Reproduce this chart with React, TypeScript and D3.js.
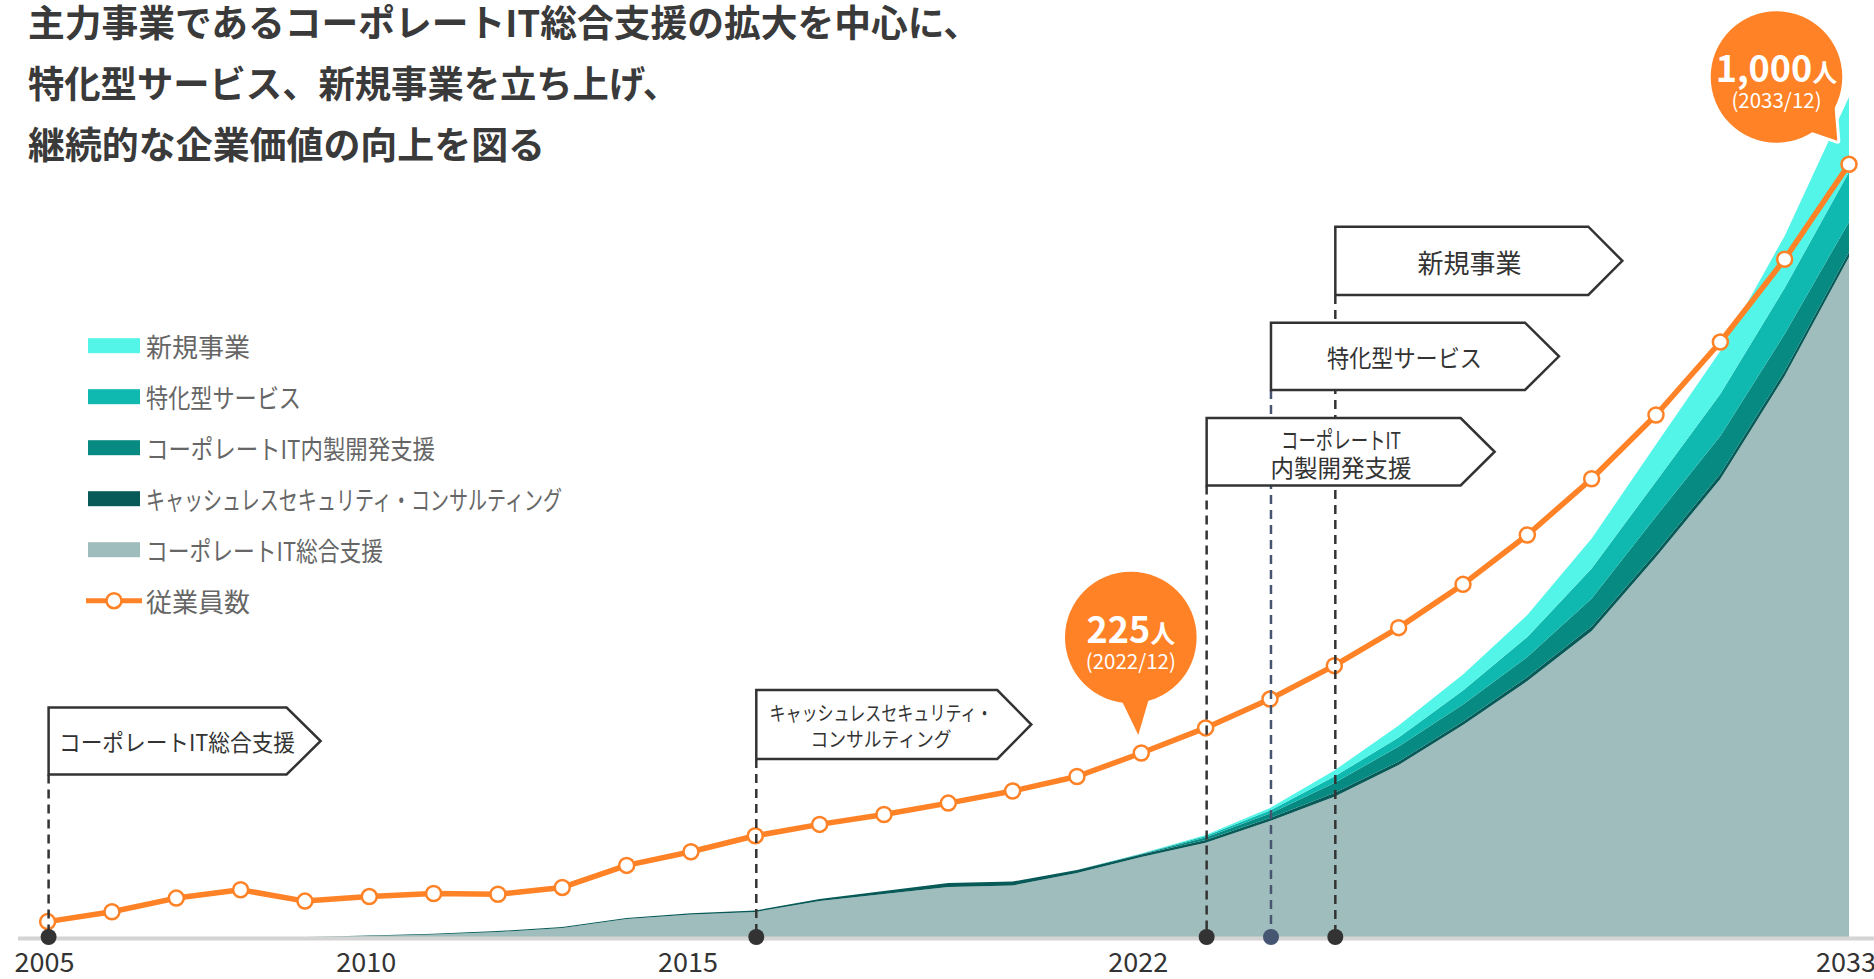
import React from 'react';
import * as d3 from 'd3';

// years on the x axis
const years = [
  2005, 2006, 2007, 2008, 2009, 2010, 2011, 2012, 2013, 2014,
  2015, 2016, 2017, 2018, 2019, 2020, 2021, 2022, 2023, 2024,
  2025, 2026, 2027, 2028, 2029, 2030, 2031, 2032, 2033,
];
const tickYears = [2005, 2010, 2015, 2022, 2033];

// employees (people)
const employees = [
  3, 16, 34, 45, 30, 36, 40, 39, 48, 77,
  95, 116, 131, 144, 159, 175, 194, 225, 258, 296,
  340, 390, 447, 512, 586, 670, 766, 875, 1000,
];

// business scale per segment (relative units)
const itGeneral = [
  0, 0, 0, 0, 0, 1, 2.5, 5, 9, 18,
  22.5, 25, 36, 43, 50, 51.5, 64, 80, 94.3, 116,
  140.3, 172, 212, 256, 306, 380, 458, 561, 680,
];
const cashless = [
  0, 0, 0, 0, 0, 0.5, 0.8, 1, 1, 1,
  1.2, 1.5, 2, 3, 4, 4, 3, 2.5, 2.7, 3,
  3.7, 3.5, 3.5, 4, 4.5, 4.5, 5, 5, 5,
];
const inhouse = [
  0, 0, 0, 0, 0, 0, 0, 0, 0, 0,
  0, 0, 0, 0, 0, 0, 0, 0.5, 2.5, 4.5,
  10, 15, 17, 20, 28, 36, 38, 37, 30,
];
const specialized = [
  0, 0, 0, 0, 0, 0, 0, 0, 0, 0,
  0, 0, 0, 0, 0, 0, 0, 0.3, 1.5, 3,
  6.5, 9, 14, 20, 30, 35, 42, 46, 50,
];
const newBiz = [
  0, 0, 0, 0, 0, 0, 0, 0, 0, 0,
  0, 0, 0, 0, 0, 0, 0, 0.2, 1, 2.5,
  6, 12, 16, 22, 30, 37, 43, 52, 75,
];

const seriesKeys = ['itGeneral', 'cashless', 'inhouse', 'specialized', 'newBiz'];
const seriesColors = {
  itGeneral: '#a0bdbd',
  cashless: '#075a57',
  inhouse: '#078a82',
  specialized: '#10b9b0',
  newBiz: '#52f5e8',
};

// fit = text width in the reference (its font has narrow kana)
const legendItems = [
  { label: '新規事業', key: 'newBiz', fit: 104 },
  { label: '特化型サービス', key: 'specialized', fit: 155 },
  { label: 'コーポレートIT内製開発支援', key: 'inhouse', fit: 289 },
  { label: 'キャッシュレスセキュリティ・コンサルティング', key: 'cashless', fit: 416 },
  { label: 'コーポレートIT総合支援', key: 'itGeneral', fit: 237 },
  { label: '従業員数', key: 'employees', fit: 104 },
];

const titleLines = [
  '主力事業であるコーポレートIT総合支援の拡大を中心に、',
  '特化型サービス、新規事業を立ち上げ、',
  '継続的な企業価値の向上を図る',
];
const titleFit = [952, 651, 517];

// start of each business, flag boxes above the timeline
const milestones = [
  { year: 2005, lines: ['コーポレートIT総合支援'], top: 707.5, bottom: 774.5, w: 238, cx: 177, ly: [741], fs: 23, fit: [236], color: '#333' },
  { year: 2016, lines: ['キャッシュレスセキュリティ・', 'コンサルティング'], top: 690, bottom: 759, w: 241, cx: 881, ly: [712.5, 738.5], fs: 20, fit: [223, 141], color: '#333' },
  { year: 2023, lines: ['コーポレートIT', '内製開発支援'], top: 418, bottom: 485.5, w: 254, cx: 1341, ly: [438.5, 466.5], fs: 23.5, fit: [120, 141], color: '#333' },
  { year: 2024, lines: ['特化型サービス'], top: 322.7, bottom: 390, w: 254, cx: 1404.5, ly: [356.5], fs: 24, fit: [155], color: '#475570' },
  { year: 2025, lines: ['新規事業'], top: 226.7, bottom: 295, w: 253, cx: 1469.5, ly: [261], fs: 26, fit: [104], color: '#333' },
];

const FONT = '"Noto Sans CJK JP", "Noto Sans", sans-serif';
const ORANGE = '#ff8226';

const W = 1874;
const H = 979;
const BASE_Y = 937;

const Bubble = ({ cx, cy, r, tail, big, unit, sub }) => {
  const tailPts = tail.map((p) => p.join(',')).join(' ');
  return (
    <g>
      <circle cx={cx} cy={cy} r={r} fill="#fff" stroke="#fff" strokeWidth={6} />
      <polygon points={tailPts} fill="#fff" stroke="#fff" strokeWidth={6} strokeLinejoin="round" />
      <circle cx={cx} cy={cy} r={r} fill={ORANGE} />
      <polygon points={tailPts} fill={ORANGE} />
      <text x={cx} y={cy + 5} textAnchor="middle" fill="#fff" fontFamily={FONT} fontWeight={700}>
        <tspan fontSize={36}>{big}</tspan>
        <tspan fontSize={25}>{unit}</tspan>
      </text>
      <text x={cx} y={cy + 31} textAnchor="middle" fill="#fff" fontFamily={FONT} fontSize={20.5}>
        {sub}
      </text>
    </g>
  );
};

export default function App() {
  const x = d3.scaleLinear().domain([2005, 2033]).range([47.6, 1849]);
  const yRev = d3.scaleLinear().domain([0, 840]).range([BASE_Y, 97]);
  const yEmp = d3.scaleLinear().domain([0, 1000]).range([923.9, 164.3]);

  const table = years.map((yr, i) => ({
    year: yr,
    itGeneral: itGeneral[i],
    cashless: cashless[i],
    inhouse: inhouse[i],
    specialized: specialized[i],
    newBiz: newBiz[i],
  }));
  const stacked = d3.stack().keys(seriesKeys)(table);

  const area = d3
    .area()
    .x((d) => x(d.data.year))
    .y0((d) => yRev(d[0]))
    .y1((d) => yRev(d[1]))
    .curve(d3.curveLinear);

  const line = d3
    .line()
    .x((d, i) => x(years[i]))
    .y((d) => yEmp(d));

  const legendTop = 345.7;
  const legendStep = 51;

  return (
    <svg
      width={W}
      height={H}
      viewBox={`0 0 ${W} ${H}`}
      style={{ position: 'absolute', left: 0, top: 0, display: 'block', overflow: 'hidden', background: '#fff' }}
    >
      {/* title */}
      {titleLines.map((t, i) => (
        <text
          key={t}
          x={28}
          y={37 + i * 61}
          fontFamily={FONT}
          fontSize={37}
          fontWeight={700}
          fill="#3a3a3a"
          textLength={titleFit[i]}
          lengthAdjust="spacingAndGlyphs"
        >
          {t}
        </text>
      ))}

      {/* stacked areas */}
      {stacked.map((s) => (
        <path key={s.key} d={area(s)} fill={seriesColors[s.key]} />
      ))}

      {/* baseline */}
      <line x1={18} x2={W} y1={BASE_Y + 1.5} y2={BASE_Y + 1.5} stroke="#d4d4d4" strokeWidth={4} />

      {/* employees line */}
      <path d={line(employees)} fill="none" stroke={ORANGE} strokeWidth={5.5} strokeLinejoin="round" />
      {employees.map((v, i) => (
        <circle key={years[i]} cx={x(years[i])} cy={yEmp(v)} r={7.5} fill="#fff" stroke={ORANGE} strokeWidth={2.5} />
      ))}

      {/* dashed milestone lines */}
      {milestones.map((m) => {
        const lx = x(m.year) + 1;
        return (
          <line key={`d${m.year}`} x1={lx} x2={lx} y1={m.bottom} y2={BASE_Y} stroke={m.color} strokeWidth={2.5} strokeDasharray="9 6" />
        );
      })}

      {/* flag boxes */}
      {milestones.map((m) => {
        const left = x(m.year) + 1;
        const right = left + m.w;
        const mid = (m.top + m.bottom) / 2;
        const d = `M${left},${m.top} H${right} L${right + 34},${mid} L${right},${m.bottom} H${left} Z`;
        return (
          <g key={`b${m.year}`}>
            <path d={d} fill="#fff" stroke="#333" strokeWidth={2.5} />
            {m.lines.map((t, i) => (
              <text
                key={t}
                x={m.cx}
                y={m.ly[i]}
                textAnchor="middle"
                dominantBaseline="central"
                fontFamily={FONT}
                fontSize={m.fs}
                fill="#333"
                textLength={m.fit[i]}
                lengthAdjust="spacingAndGlyphs"
              >
                {t}
              </text>
            ))}
          </g>
        );
      })}

      {/* dots on the axis */}
      {milestones.map((m) => (
        <circle key={`p${m.year}`} cx={x(m.year) + 1} cy={BASE_Y} r={8} fill={m.color === '#333' ? '#333' : '#465572'} />
      ))}

      {/* x axis labels */}
      {tickYears.map((t) => (
        <text key={t} x={x(t) - 3} y={972} textAnchor="middle" fontFamily={FONT} fontSize={27} fill="#333">
          {t}
        </text>
      ))}

      {/* legend */}
      {legendItems.map((it, i) => {
        const cy = legendTop + i * legendStep;
        return (
          <g key={it.key}>
            {it.key === 'employees' ? (
              <g>
                <line x1={86} x2={142} y1={cy} y2={cy} stroke={ORANGE} strokeWidth={5} />
                <circle cx={114} cy={cy} r={7.5} fill="#fff" stroke={ORANGE} strokeWidth={2.5} />
              </g>
            ) : (
              <rect x={88} y={cy - 7.5} width={52} height={15} fill={seriesColors[it.key]} />
            )}
            <text
              x={146}
              y={cy}
              dominantBaseline="central"
              fontFamily={FONT}
              fontSize={26}
              fill="#666"
              textLength={it.fit}
              lengthAdjust="spacingAndGlyphs"
            >
              {it.label}
            </text>
          </g>
        );
      })}

      {/* callouts */}
      <Bubble
        cx={1130.8}
        cy={637.5}
        r={65.8}
        tail={[[1119, 695], [1150, 695], [1138.3, 735]]}
        big="225"
        unit="人"
        sub="(2022/12)"
      />
      <Bubble
        cx={1776.5}
        cy={77}
        r={65.8}
        tail={[[1800, 128], [1834, 100], [1837.3, 140.7]]}
        big="1,000"
        unit="人"
        sub="(2033/12)"
      />
    </svg>
  );
}
